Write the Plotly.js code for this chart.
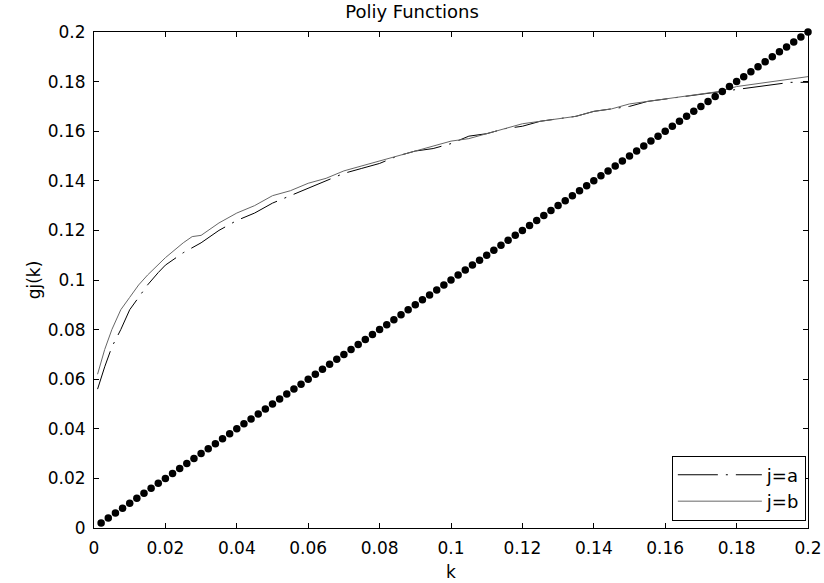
<!DOCTYPE html>
<html>
<head>
<meta charset="utf-8">
<script src="https://cdn.plot.ly/plotly-3.0.1.min.js"></script>
<style>html,body{margin:0;padding:0;background:#fff;}#chart{width:824px;height:583px;}</style>
</head>
<body>
<div id="chart"></div>
<script>
// k positions for the two curves
const kCurve = [0.001,0.003,0.005,0.0075,0.010,0.0125,0.015,0.018,0.020,0.025,0.0275,0.030,0.035,0.040,0.045,0.050,0.055,0.060,0.065,0.070,0.075,0.080,0.085,0.090,0.095,0.100,0.105,0.110,0.115,0.120,0.125,0.130,0.135,0.140,0.145,0.150,0.155,0.160,0.165,0.170,0.175,0.180,0.185,0.190,0.195,0.200];
// j=a (dash-dot)
const ja = [0.056,0.065,0.073,0.080,0.088,0.093,0.098,0.103,0.106,0.111,0.113,0.115,0.120,0.124,0.127,0.131,0.134,0.137,0.140,0.143,0.145,0.147,0.150,0.152,0.153,0.155,0.158,0.159,0.161,0.162,0.164,0.165,0.166,0.168,0.169,0.170,0.172,0.173,0.174,0.175,0.176,0.177,0.178,0.179,0.1797,0.1797];
// j=b (solid)
const jb = [0.062,0.072,0.080,0.088,0.093,0.098,0.102,0.106,0.109,0.115,0.1175,0.118,0.123,0.127,0.130,0.134,0.136,0.139,0.141,0.144,0.146,0.148,0.150,0.152,0.154,0.156,0.157,0.159,0.161,0.163,0.164,0.165,0.166,0.168,0.169,0.171,0.172,0.173,0.174,0.175,0.176,0.178,0.179,0.180,0.181,0.182];
// dotted diagonal reference
const kDots = [0.002,0.004,0.006,0.008,0.010,0.012,0.014,0.016,0.018,0.020,0.022,0.024,0.026,0.028,0.030,0.032,0.034,0.036,0.038,0.040,0.042,0.044,0.046,0.048,0.050,0.052,0.054,0.056,0.058,0.060,0.062,0.064,0.066,0.068,0.070,0.072,0.074,0.076,0.078,0.080,0.082,0.084,0.086,0.088,0.090,0.092,0.094,0.096,0.098,0.100,0.102,0.104,0.106,0.108,0.110,0.112,0.114,0.116,0.118,0.120,0.122,0.124,0.126,0.128,0.130,0.132,0.134,0.136,0.138,0.140,0.142,0.144,0.146,0.148,0.150,0.152,0.154,0.156,0.158,0.160,0.162,0.164,0.166,0.168,0.170,0.172,0.174,0.176,0.178,0.180,0.182,0.184,0.186,0.188,0.190,0.192,0.194,0.196,0.198,0.200];
const vDots = kDots.slice();
const tickVals = [0,0.02,0.04,0.06,0.08,0.1,0.12,0.14,0.16,0.18,0.2];
const tickText = ["0","0.02","0.04","0.06","0.08","0.1","0.12","0.14","0.16","0.18","0.2"];

const FONT = "DejaVu Sans, Liberation Sans, sans-serif";
const traces = [
  {x: kCurve, y: ja, name: "j=a", mode: "lines", line: {color: "#000", width: 1, dash: "40px,8px,2px,8px"}},
  {x: kCurve, y: jb, name: "j=b", mode: "lines", line: {color: "#666", width: 1}},
  {x: kDots, y: vDots, mode: "markers", showlegend: false, cliponaxis: false,
   marker: {color: "#000", size: 7.5}}
];
const axisCommon = {
  range: [0, 0.2], tickvals: tickVals, ticktext: tickText,
  ticks: "inside", ticklen: 5, tickcolor: "#000", tickwidth: 1,
  showline: true, linecolor: "#000", linewidth: 1, mirror: "ticks",
  showgrid: false, zeroline: false,
  tickfont: {family: FONT, size: 17, color: "#000"}
};
const layout = {
  width: 824, height: 583,
  margin: {l: 94, r: 16, t: 32, b: 55},
  paper_bgcolor: "#fff", plot_bgcolor: "#fff",
  title: {text: "Poliy Functions", font: {family: FONT, size: 18, color: "#000"}, x: 0.5, xanchor: "center", y: 0.99, yanchor: "top"},
  xaxis: Object.assign({}, axisCommon, {title: {text: "k", font: {family: FONT, size: 17, color: "#000"}, standoff: 8}, ticklabelstandoff: 5}),
  yaxis: Object.assign({}, axisCommon, {title: {text: "gj(k)", font: {family: FONT, size: 17, color: "#000"}, standoff: 2}, ticklabelstandoff: 4}),
  showlegend: true,
  legend: {x: 0.997, xanchor: "right", y: 0.015, yanchor: "bottom",
    bgcolor: "#fff", bordercolor: "#000", borderwidth: 1,
    itemwidth: 84, font: {family: FONT, size: 18, color: "#000"}}
};
Plotly.newPlot("chart", traces, layout, {displayModeBar: false, staticPlot: true});
</script>
</body>
</html>
